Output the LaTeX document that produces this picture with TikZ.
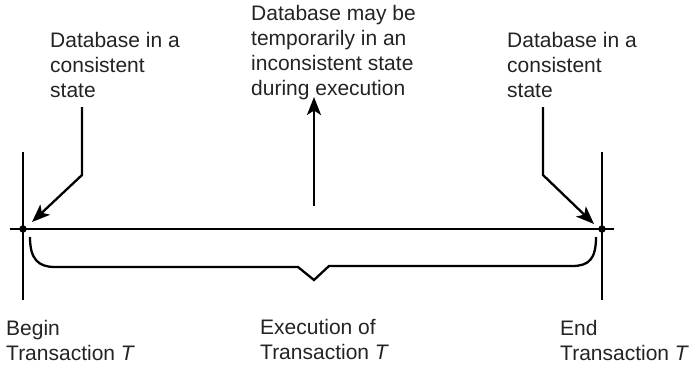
\documentclass[tikz,border=0pt]{standalone}
\usepackage{fontspec}
\setmainfont{Liberation Sans}
\usetikzlibrary{arrows.meta}
\definecolor{txt}{RGB}{35,35,35}
\begin{document}
\begin{tikzpicture}[x=1pt,y=-1pt,
  line/.style={line width=2.3pt},
  arr/.style={line width=2.3pt,-{Stealth[length=18pt,width=14pt,inset=4.5pt]}},
  lbl/.style={anchor=north west,inner sep=0pt,align=left,text=txt,font=\fontsize{21}{25}\selectfont},
  dot/.style={circle,fill=black,inner sep=0pt,minimum size=7.5pt}]
\useasboundingbox (0,0) rectangle (691,365);
% timeline
\coordinate (ml) at (10,229);
\coordinate (mr) at (614,229);
\node[dot] (L) at (23,229) {};
\node[dot] (R) at (602,229) {};
\coordinate (Lt) at (23,152);
\coordinate (Lb) at (23,300);
\coordinate (Rt) at (602,152);
\coordinate (Rb) at (602,300);
\draw[line] (ml) -- (mr);
\draw[line] (Lt) -- (Lb);
\draw[line] (Rt) -- (Rb);
% labels
\node[lbl] (tl) at (50,32) {Database in a\\consistent\\state};
\node[lbl] (tm) at (251,5) {Database may be\\temporarily in an\\inconsistent state\\during execution};
\node[lbl] (tr) at (507,32) {Database in a\\consistent\\state};
\node[lbl] (bl) at (6,320) {Begin\\Transaction \textit{T}};
\node[lbl] (bm) at (260,319) {Execution of\\Transaction \textit{T}};
\node[lbl] (br) at (560,320) {End\\Transaction \textit{T}};
% arrows
\coordinate (a1s) at (82,107);
\coordinate (a1b) at (82,175);
\coordinate (a1e) at (32,222);
\draw[arr] (a1s) -- (a1b) -- (a1e);
\coordinate (a2s) at (314,206);
\coordinate (a2e) at (314,97);
\draw[arr] (a2s) -- (a2e);
\coordinate (a3s) at (543,107);
\coordinate (a3b) at (543,175);
\coordinate (a3e) at (594,224);
\draw[arr] (a3s) -- (a3b) -- (a3e);
% brace
\coordinate (b1) at (30,237);
\coordinate (b2) at (55,267);
\coordinate (b3) at (298,267);
\coordinate (b4) at (314,280);
\coordinate (b5) at (329,266);
\coordinate (b6) at (572,266);
\coordinate (b7) at (596,237);
\draw[line,line join=miter] (b1) .. controls (30,259) and (38,267) .. (b2) -- (b3) -- (b4) -- (b5) -- (b6) .. controls (589,266) and (596,259) .. (b7);
\end{tikzpicture}
\end{document}
